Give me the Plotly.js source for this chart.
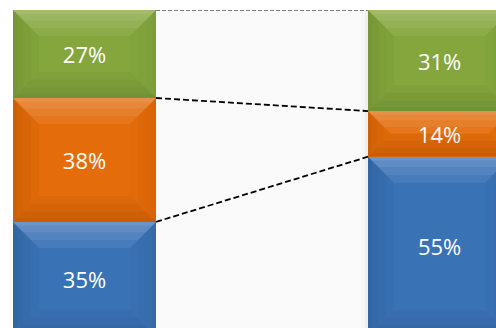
<!DOCTYPE html>
<html>
<head>
<meta charset="utf-8">
<script src="https://cdn.plot.ly/plotly-3.0.1.min.js"></script>
<style>html,body{margin:0;padding:0;background:#fff;}#chart{width:496px;height:328px;}</style>
</head>
<body>
<div id="chart"></div>
<script>
const categories = [0, 1];
const blueVals = [35, 55];
const orangeVals = [38, 14];
const greenVals = [27, 31];
const blueLabels = ['35%', '55%'];
const orangeLabels = ['38%', '14%'];
const greenLabels = ['27%', '31%'];

const BAR_W = 0.403;
const XR = [-0.238, 1.159];
const YR = [2.45, 100];
const W = 496, H = 328, MT = 10;
const pxX = W / (XR[1] - XR[0]);
const pxY = (H - MT) / (YR[1] - YR[0]);

const colors = {blue: '#3a72b6', orange: '#e46c0a', green: '#84a63d'};
const font = {family: '"Open Sans", "Noto Sans", sans-serif', size: 22, color: '#ffffff'};

function trace(vals, labels, color) {
  return {
    type: 'bar', x: categories, y: vals, width: BAR_W,
    text: labels, textposition: 'inside', insidetextanchor: 'middle',
    textfont: font, marker: {color: color, line: {width: 0}},
    hoverinfo: 'skip', cliponaxis: false
  };
}
const data = [
  trace(blueVals, blueLabels, colors.blue),
  trace(orangeVals, orangeLabels, colors.orange),
  trace(greenVals, greenLabels, colors.green)
];

const shapes = [];
// light background between bars
shapes.push({type: 'rect', xref: 'x', yref: 'y', layer: 'below',
  x0: categories[0] + BAR_W / 2, x1: categories[1] - BAR_W / 2, y0: YR[0], y1: 100,
  fillcolor: '#fafafa', line: {width: 0}});
[[6, '#f6f6f6'], [3, '#eeeeee']].forEach(([w, c]) => shapes.push({type: 'rect', xref: 'x', yref: 'y', layer: 'below',
  x0: categories[1] - BAR_W / 2 - w / pxX, x1: categories[1] - BAR_W / 2, y0: YR[0], y1: 100,
  fillcolor: c, line: {width: 0}}));

// bevel overlays (soft, layered for a gradient look)
const series = [blueVals, orangeVals, greenVals];
const p = pts => 'M' + pts.map(q => q[0] + ',' + q[1]).join(' L') + ' Z';
const add = (path, fill) => shapes.push({type: 'path', xref: 'x', yref: 'y', layer: 'above',
  path: path, fillcolor: fill, line: {width: 0}});
categories.forEach((c, i) => {
  let base = 0;
  series.forEach(vals => {
    const y0 = base, y1 = base + vals[i];
    base = y1;
    const hpx = (y1 - y0) * pxY;
    const dmax = Math.min(26, hpx / 2);
    const xl = c - BAR_W / 2, xr = c + BAR_W / 2;
    [1, 0.7, 0.4, 0.15].forEach(f => {
      const dx = dmax * f / pxX, dy = dmax * f / pxY;
      add(p([[xl, y1], [xr, y1], [xr - dx, y1 - dy], [xl + dx, y1 - dy]]), 'rgba(255,255,255,0.07)');
      add(p([[xl, y0], [xr, y0], [xr - dx, y0 + dy], [xl + dx, y0 + dy]]), 'rgba(0,0,0,0.03)');
      add(p([[xl, y0], [xl, y1], [xl + dx, y1 - dy], [xl + dx, y0 + dy]]), 'rgba(0,0,0,0.025)');
      add(p([[xr, y0], [xr, y1], [xr - dx, y1 - dy], [xr - dx, y0 + dy]]), 'rgba(0,0,0,0.012)');
    });
  });
});

// connecting dashed lines
const cumL = [blueVals[0], blueVals[0] + orangeVals[0], blueVals[0] + orangeVals[0] + greenVals[0]];
const cumR = [blueVals[1], blueVals[1] + orangeVals[1], blueVals[1] + orangeVals[1] + greenVals[1]];
cumL.forEach((v, k) => {
  shapes.push({type: 'line', xref: 'x', yref: 'y', layer: 'above',
    x0: categories[0] + BAR_W / 2, y0: v, x1: categories[1] - BAR_W / 2, y1: cumR[k],
    line: {color: '#000000', width: k === 2 ? 1 : 1.8, dash: k === 2 ? '4px,2px' : '6px,3px'}});
});

const layout = {
  width: W, height: H,
  margin: {l: 0, r: 0, t: MT, b: 0, pad: 0},
  barmode: 'stack', bargap: 0,
  paper_bgcolor: '#ffffff', plot_bgcolor: '#ffffff',
  showlegend: false,
  xaxis: {range: XR, visible: false, fixedrange: true},
  yaxis: {range: YR, visible: false, fixedrange: true},
  shapes: shapes
};
Plotly.newPlot('chart', data, layout, {displayModeBar: false, staticPlot: true});
</script>
</body>
</html>
